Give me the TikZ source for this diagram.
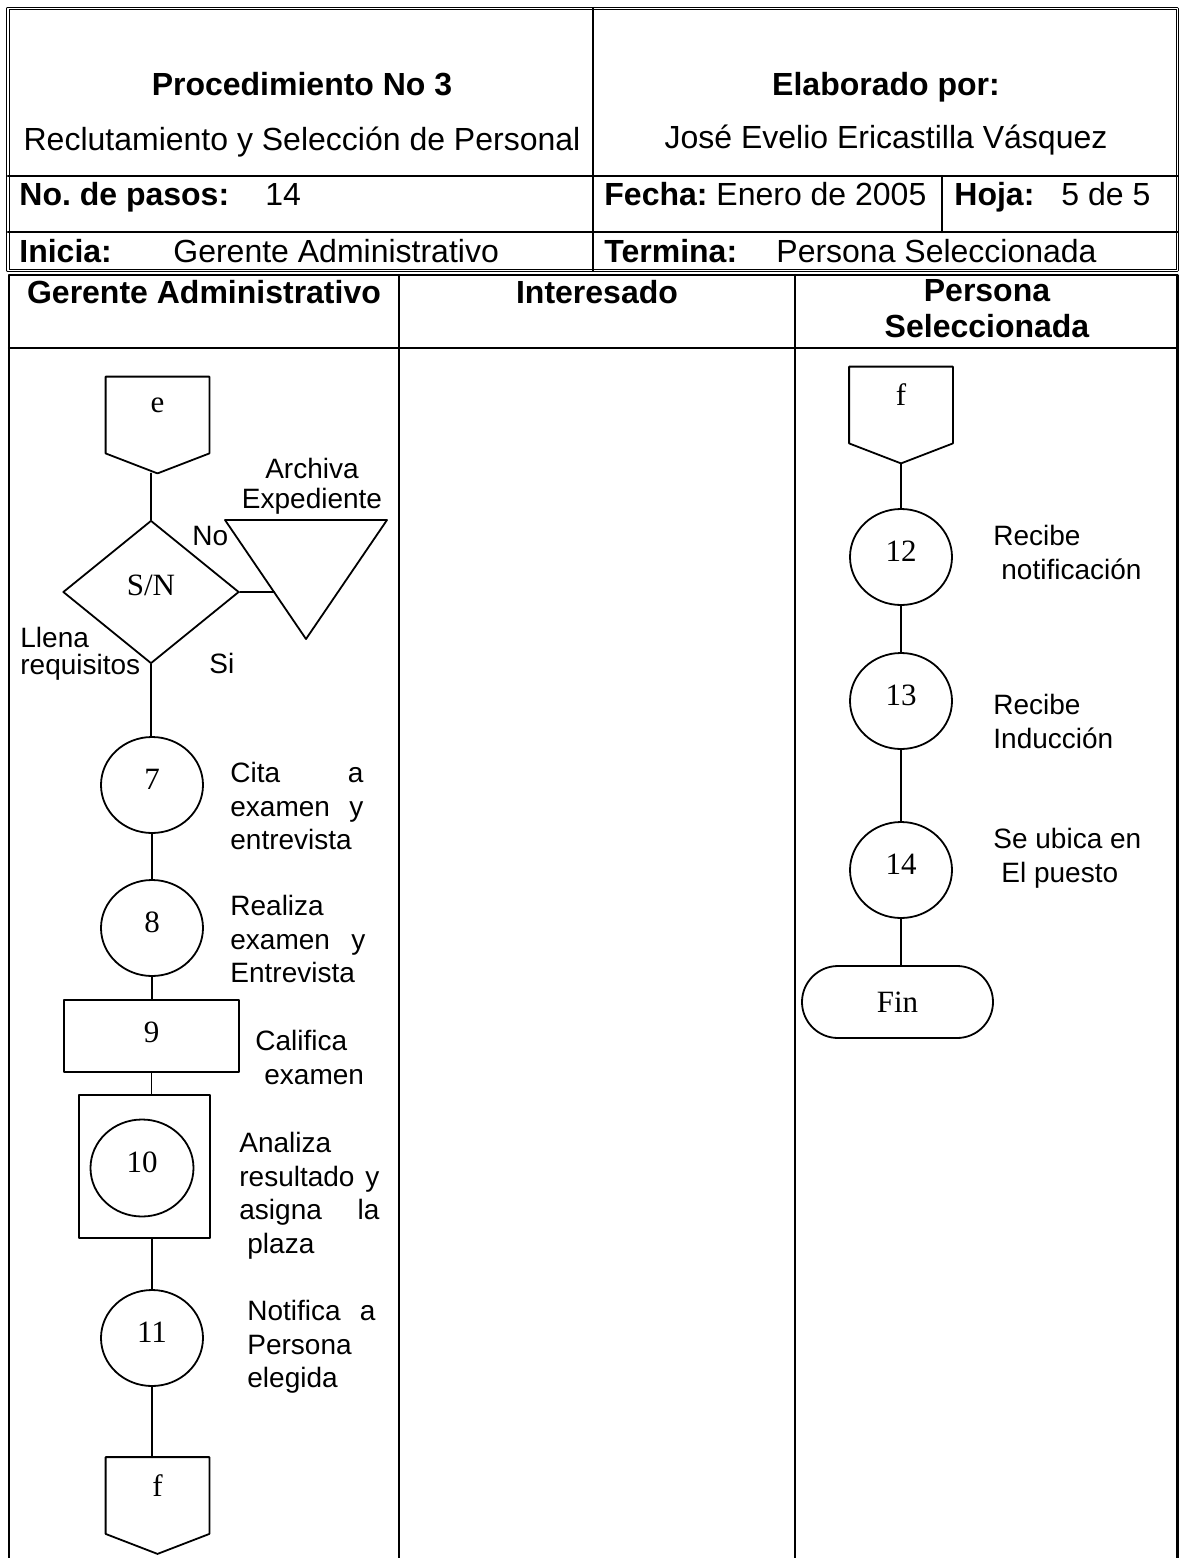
\documentclass[tikz,border=0pt]{standalone}
\usepackage{fontspec}
\setmainfont{Liberation Serif}
\setsansfont{Liberation Sans}
\usepackage{tikz}
\usetikzlibrary{calc}
\usetikzlibrary{shapes.misc}
\usepgflibrary{shapes.geometric}
\frenchspacing

\newcommand\hdrfont{\sffamily\fontsize{16}{18}\selectfont}
\newcommand\lblfont{\sffamily\fontsize{14}{16.75}\selectfont}
\newcommand\numfont{\rmfamily\fontsize{15.5}{18}\selectfont}

\begin{document}
\begin{tikzpicture}[x=0.5pt, y=-0.5pt, line cap=round, line join=round,
    tabla/.style={line width=1.1pt},
    doble/.style={double, double distance=0.85pt, line width=0.55pt},
    linea/.style={line width=0.9pt},
    paso/.style={draw, ellipse, line width=0.9pt, minimum width=51pt, minimum height=48pt, inner sep=0pt, text depth=5.5pt, font=\numfont},
    caja/.style={draw, rectangle, line width=0.9pt, inner sep=0pt, font=\numfont},
    conector/.style={minimum width=51.5pt, minimum height=38pt, inner sep=0pt, text depth=10pt, font=\numfont},
    encab/.style={font=\hdrfont, inner sep=0pt, anchor=base west},
    etiq/.style={font=\lblfont, inner sep=0pt, align=left, anchor=north west}]
  \useasboundingbox (0,0) rectangle (1181,1558);
  %--- Encabezado
    \draw[doble] (8,8.5) rectangle (1177.5,270.5);
    \draw[tabla] (593,8.5) -- (593,270.5);
    \draw[tabla] (8,176) -- (1177.5,176);
    \draw[tabla] (8,232) -- (1177.5,232);
    \draw[tabla] (942,176) -- (942,232);
    \node[encab, anchor=base] (proc) at (302,95) {\bfseries Procedimiento No 3};
    \node[encab, anchor=base] (nombre) at (302,150) {Reclutamiento y Selección de Personal};
    \node[encab, anchor=base] (elab) at (886,95) {\bfseries Elaborado por:};
    \node[encab, anchor=base] (autor) at (886,148) {José Evelio Ericastilla Vásquez};
    \node[encab] (pasos) at (19,205) {\bfseries No. de pasos:};
    \node[encab] (npasos) at (265,205) {14};
    \node[encab] (fecha) at (604,205) {\textbf{Fecha:} Enero de 2005};
    \node[encab] (hoja) at (954,205) {\bfseries Hoja:};
    \node[encab] (nhoja) at (1061,205) {5 de 5};
    \node[encab] (inicia) at (19,262) {\bfseries Inicia:};
    \node[encab] (quien1) at (173,262) {Gerente Administrativo};
    \node[encab] (termina) at (604,262) {\bfseries Termina:};
    \node[encab] (quien2) at (776,262) {Persona Seleccionada};
  %--- Carriles
    \draw[tabla] (9,1558) -- (9,275) -- (1177.5,275) -- (1177.5,1558);
    \draw[tabla] (9,348) -- (1177.5,348);
    \draw[tabla] (399,275) -- (399,1558);
    \draw[tabla] (795,275) -- (795,1558);
    \node[encab, anchor=base] (gerente) at (204,303) {\bfseries Gerente Administrativo};
    \node[encab, anchor=base] (interesado) at (597,303) {\bfseries Interesado};
    \node[encab, anchor=north, align=center] (persona) at (987,279) {\bfseries Persona\\\bfseries Seleccionada};
  %--- Conector e
    \node[conector] (e1) at (157.5,415) {e};
    \coordinate (e1tip) at ([yshift=-10pt]e1.south);
    \draw[linea] (e1.north west) -- (e1.north east) -- (e1.south east) -- (e1tip) -- (e1.south west) -- cycle;
  %--- Decision S/N
    \node[draw, diamond, line width=0.9pt, minimum width=88pt, minimum height=71.5pt, inner sep=0pt, text depth=7pt, font=\numfont] (sn) at (151,592) {S/N};
    \draw[linea] (sn.north) -- (sn.north |- e1tip);
  %--- Archiva expediente
    \coordinate (t1) at (225,520);
    \coordinate (t2) at (387,520);
    \coordinate (t3) at (306,639);
    \draw[linea] (t1) -- (t2) -- (t3) -- cycle;
    \coordinate (arch) at ($(t1)!0.605!(t3)$);
    \draw[linea] (sn.east) -- (arch);
    \node[etiq, anchor=north, align=center] (archexp) at (312,458) {Archiva\\[-1.75pt]Expediente};
    \node[etiq, anchor=base west] (no) at (192,545) {No};
    \node[etiq] (llena) at (20,627) {Llena\\[-3.5pt]requisitos};
    \node[etiq, anchor=base west] (si) at (209,673) {Si};
  %--- Pasos 7 a 11
    \node[paso] (c7) at (152,785) {7};
    \node[paso] (c8) at (152,928) {8};
    \node[caja, minimum width=87.5pt, minimum height=36pt, text depth=4pt] (r9) at (151.5,1036) {9};
    \node[caja, minimum width=65.5pt, minimum height=71.5pt] (r10) at (144.5,1166.5) {};
    \node[paso, minimum width=51.5pt, minimum height=48.5pt] (c10) at (142,1168) {10};
    \node[paso] (c11) at (152,1338) {11};
    \draw[linea] (sn.south) -- (sn.south |- c7.north);
    \draw[linea] (c7.south) -- (c8.north);
    \draw[linea] (c8.south) -- (c8.south |- r9.north);
    \draw[linea] (r9.south) -- (r9.south |- r10.north);
    \draw[linea] (c11.north |- r10.south) -- (c11.north);
    \node[etiq, text width=66.5pt] (cita) at (230,762) {Cita\hfill a\\examen\hfill y\\entrevista};
    \node[etiq, text width=67.5pt] (realiza) at (230,895) {Realiza\\examen\hfill y\\Entrevista};
    \node[etiq] (califica) at (255,1030) {Califica\\\hspace*{4.5pt}examen};
    \node[etiq, text width=70pt] (analiza) at (239,1132) {Analiza\\resultado\hfill y\\asigna\hfill la\\\hspace*{4pt}plaza};
    \node[etiq, text width=64pt] (notifica) at (247,1300) {Notifica\hfill a\\Persona\\elegida};
  %--- Conector f (sale)
    \node[conector] (f1) at (157.5,1495.5) {f};
    \coordinate (f1tip) at ([yshift=-10pt]f1.south);
    \draw[linea] (f1.north west) -- (f1.north east) -- (f1.south east) -- (f1tip) -- (f1.south west) -- cycle;
    \draw[linea] (c11.south) -- (c11.south |- f1.north);
  %--- Conector f (entra)
    \node[conector] (f2) at (901,405) {f};
    \coordinate (f2tip) at ([yshift=-10pt]f2.south);
    \draw[linea] (f2.north west) -- (f2.north east) -- (f2.south east) -- (f2tip) -- (f2.south west) -- cycle;
  %--- Pasos 12 a 14
    \node[paso] (c12) at (901,557) {12};
    \node[paso] (c13) at (901,701) {13};
    \node[paso] (c14) at (901,870) {14};
    \node[draw, rounded rectangle, line width=0.9pt, minimum width=95.5pt, minimum height=36pt, inner sep=0pt, font=\numfont] (fin) at (897.5,1002) {Fin};
    \draw[linea] (f2tip) -- (c12.north);
    \draw[linea] (c12.south) -- (c13.north);
    \draw[linea] (c13.south) -- (c14.north);
    \draw[linea] (c14.south) -- (c14.south |- fin.north);
    \node[etiq] (rec1) at (993,525) {Recibe\\\hspace*{4pt}notificación};
    \node[etiq] (rec2) at (993,694) {Recibe\\Inducción};
    \node[etiq] (ubica) at (993,828) {Se ubica en\\\hspace*{4pt}El puesto};
  \end{tikzpicture}
\end{document}
